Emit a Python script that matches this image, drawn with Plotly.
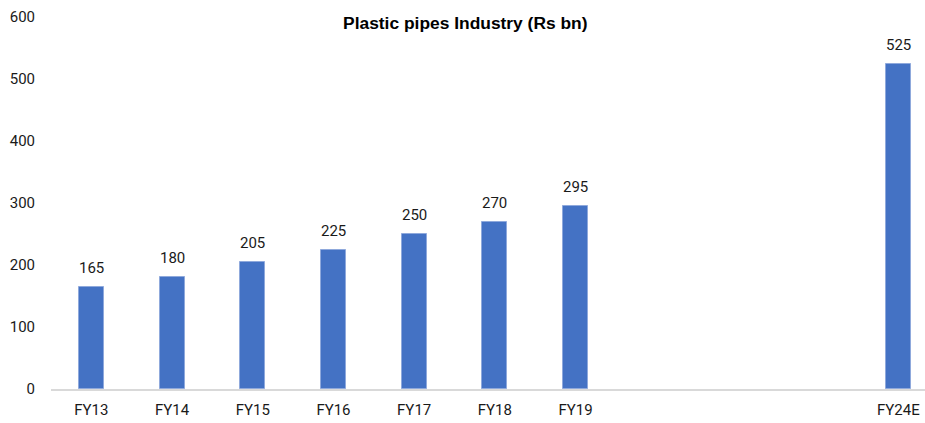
import plotly.graph_objects as go

categories = ["FY13", "FY14", "FY15", "FY16", "FY17", "FY18", "FY19", " ", "  ", "   ", "FY24E"]
values = [165, 180, 205, 225, 250, 270, 295, None, None, None, 525]
title_text = "Plastic pipes Industry (Rs bn)"
y_ticks = [0, 100, 200, 300, 400, 500, 600]

BAR = "#4472C4"
FONT = "Roboto"

fig = go.Figure()
fig.add_trace(go.Bar(
    x=categories, y=values,
    marker=dict(color=BAR, line=dict(color="#8FA9DC", width=1)),
    width=0.31,
    hoverinfo="skip",
))

for c, v in zip(categories, values):
    if v is None:
        continue
    fig.add_annotation(x=c, y=v, text=str(v), showarrow=False,
                       yanchor="bottom", yshift=8,
                       font=dict(family=FONT, size=15, color="#1a1a1a"))

fig.update_layout(
    width=925, height=423,
    margin=dict(l=51.4, r=0, t=17, b=34.4),
    paper_bgcolor="white", plot_bgcolor="white",
    showlegend=False,
    bargap=0,
    title=dict(text="<b>" + title_text + "</b>", x=0.503, xref="container",
               y=1 - 23 / 423, yref="container", yanchor="middle",
               font=dict(family="Liberation Sans", size=17.4, color="#000000")),
    xaxis=dict(
        type="category", range=[-0.5, 10.33],
        showline=True, linecolor="#D9D9D9", linewidth=1.5,
        showgrid=False, ticks="", zeroline=False,
        tickfont=dict(family=FONT, size=15, color="#1a1a1a"),
        ticklabelstandoff=6,
    ),
    yaxis=dict(
        range=[0, 600], tickvals=y_ticks,
        showline=False, showgrid=False, zeroline=False, ticks="",
        tickfont=dict(family=FONT, size=15, color="#1a1a1a"),
        ticklabelstandoff=15,
    ),
)

fig.write_html("out.html")
